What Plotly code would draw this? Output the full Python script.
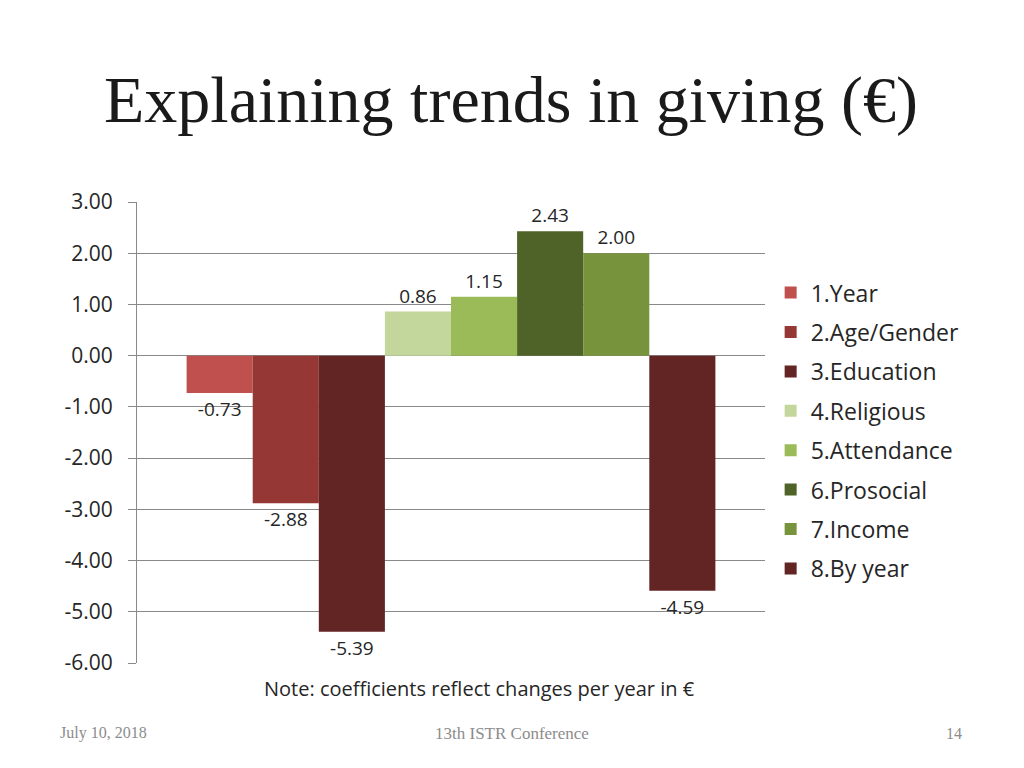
import plotly.graph_objects as go

series_names = ["1.Year", "2.Age/Gender", "3.Education", "4.Religious",
                "5.Attendance", "6.Prosocial", "7.Income", "8.By year"]
values = [-0.73, -2.88, -5.39, 0.86, 1.15, 2.43, 2.00, -4.59]
colors = ["#C0504D", "#953735", "#632523", "#C3D69B",
          "#9BBB59", "#4F6228", "#77933C", "#632523"]
y_ticks = [3, 2, 1, 0, -1, -2, -3, -4, -5, -6]
y_tick_text = [f"{t:.2f}" for t in y_ticks]
category = [""]

SANS = "Open Sans, Liberation Sans, sans-serif"
SERIF = "Liberation Serif, DejaVu Serif, serif"

fig = go.Figure()
for i, (name, v, c) in enumerate(zip(series_names, values, colors)):
    fig.add_trace(go.Bar(
        x=category, y=[v], name=name, marker=dict(color=c, line=dict(width=0)),
        text=[f"{v:.2f}"], textposition="outside", cliponaxis=False,
        textfont=dict(family=SANS, size=19, color="#262626"),
        legendgroup=f"g{i}",
    ))

fig.update_layout(
    width=1008, height=752,
    paper_bgcolor="white", plot_bgcolor="white",
    barmode="group", bargap=0.158, bargroupgap=0,
    margin=dict(l=129, r=251, t=194, b=97),
    showlegend=True,
    legend=dict(x=1.009, y=0.85, xanchor="left", yanchor="top",
                font=dict(family=SANS, size=23, color="#262626"),
                tracegroupgap=6.5, itemwidth=30, bgcolor="rgba(0,0,0,0)"),
    xaxis=dict(showticklabels=False, showgrid=False, zeroline=False, showline=False,
               range=[-0.5, 0.5]),
    yaxis=dict(range=[-6, 3], tickvals=y_ticks, ticktext=y_tick_text,
               showgrid=True, gridcolor="#898989", gridwidth=1,
               zeroline=True, zerolinecolor="#898989", zerolinewidth=1,
               showline=True, linecolor="#898989", linewidth=1,
               ticks="outside", ticklen=8, tickcolor="#898989",
               ticklabelstandoff=11,
               tickfont=dict(family=SANS, size=21, color="#262626")),
    font=dict(family=SANS),
    annotations=[
        dict(text="Explaining trends in giving (€)", xref="paper", yref="paper",
             x=0.5, y=1, xshift=60, yshift=102, showarrow=False, xanchor="center", yanchor="middle",
             font=dict(family=SERIF, size=66, color="#1a1a1a")),
        dict(text="Note: coefficients reflect changes per year in €", xref="paper", yref="paper",
             x=0.546, y=0, yshift=-25, showarrow=False, xanchor="center", yanchor="middle",
             font=dict(family=SANS, size=20, color="#262626")),
        dict(text="July 10, 2018", xref="paper", yref="paper", x=0, xshift=-79, y=0, yshift=-70,
             showarrow=False, xanchor="left", yanchor="middle",
             font=dict(family=SERIF, size=16, color="#8c8c8c")),
        dict(text="13th ISTR Conference", xref="paper", yref="paper", x=0, xshift=375, y=0, yshift=-70,
             showarrow=False, xanchor="center", yanchor="middle",
             font=dict(family=SERIF, size=17, color="#8c8c8c")),
        dict(text="14", xref="paper", yref="paper", x=1, xshift=199, y=0, yshift=-70,
             showarrow=False, xanchor="right", yanchor="middle",
             font=dict(family=SERIF, size=16, color="#8c8c8c")),
    ],
)

fig.write_html("out.html")
